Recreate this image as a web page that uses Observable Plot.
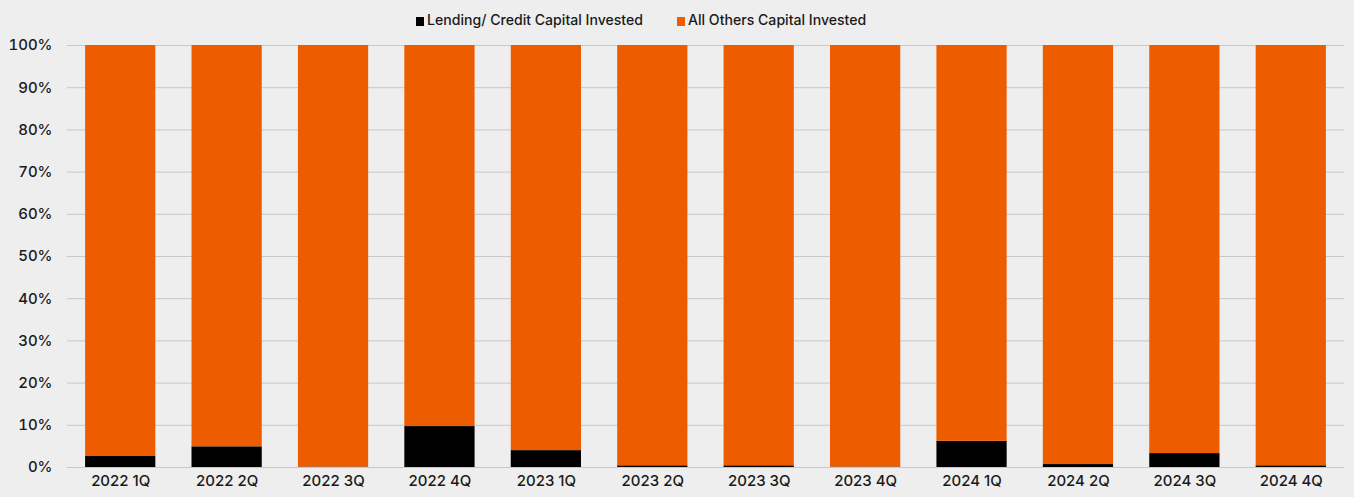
<!DOCTYPE html>
<html>
<head>
<meta charset="utf-8">
<script src="https://cdn.jsdelivr.net/npm/d3@7"></script>
<script src="https://cdn.jsdelivr.net/npm/@observablehq/plot@0.6"></script>
<style>
  html, body { margin: 0; padding: 0; background: #eeeeee; }
  #wrap { position: relative; width: 1354px; height: 497px; font-family: Inter, "Noto Sans", sans-serif; }
  #legend { position: absolute; top: 11px; left: 416px; display: flex; gap: 34px; font-size: 14.1px; color: #1a1a1a; font-weight: 500; }
  #legend span.sw { display: inline-block; width: 8px; height: 9px; margin-right: 3px; vertical-align: -0.5px; }
</style>
</head>
<body>
<div id="wrap">
  <div id="legend"></div>
  <div id="chart"></div>
</div>
<script>
const quarters = ["2022 1Q","2022 2Q","2022 3Q","2022 4Q","2023 1Q","2023 2Q","2023 3Q","2023 4Q","2024 1Q","2024 2Q","2024 3Q","2024 4Q"];
const lending = [2.6, 4.9, 0.1, 9.7, 4.0, 0.4, 0.4, 0.1, 6.2, 0.7, 3.3, 0.4];
const others = lending.map(v => 100 - v);
const seriesNames = ["Lending/ Credit Capital Invested", "All Others Capital Invested"];
const seriesColors = ["#000000", "#ee5c00"];
const yTicks = [0,10,20,30,40,50,60,70,80,90,100];

const rows = [];
quarters.forEach((q, i) => {
  rows.push({quarter: q, series: seriesNames[0], value: lending[i]});
  rows.push({quarter: q, series: seriesNames[1], value: others[i]});
});

const legend = document.getElementById("legend");
seriesNames.forEach((n, i) => {
  const d = document.createElement("div");
  d.innerHTML = `<span class="sw" style="background:${seriesColors[i]}"></span>${n}`;
  legend.appendChild(d);
});

const chart = Plot.plot({
  width: 1354,
  height: 497,
  marginLeft: 67,
  marginRight: 10,
  marginTop: 45,
  marginBottom: 30,
  style: {background: "transparent", fontFamily: "Inter, 'Noto Sans', sans-serif", fontSize: "15px", color: "#1a1a1a", fontWeight: 500},
  x: {domain: quarters, paddingInner: 0.34, paddingOuter: 0.17, round: false, label: null, tickSize: 0, tickPadding: 8},
  y: {domain: [0, 100], ticks: yTicks, tickFormat: d => d + "%", label: null, tickSize: 0, tickPadding: 15},
  color: {domain: seriesNames, range: seriesColors},
  marks: [
    Plot.gridY(yTicks, {stroke: "#c8c8c8", strokeOpacity: 1, strokeWidth: 1}),
    Plot.barY(rows, Plot.stackY({order: seriesNames, x: "quarter", y: "value", fill: "series"})),
  ]
});
document.getElementById("chart").appendChild(chart);
</script>
</body>
</html>
